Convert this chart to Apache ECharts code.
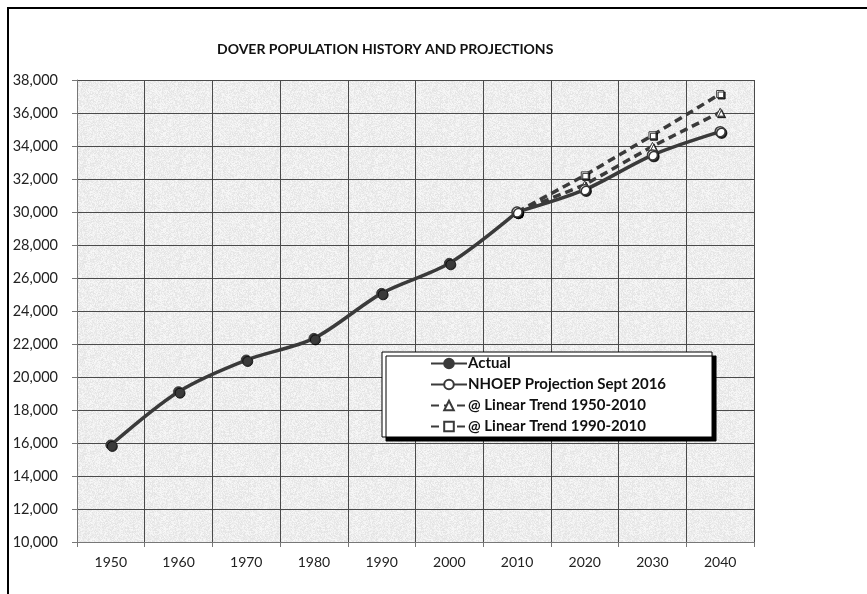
<!DOCTYPE html>
<html>
<head>
<meta charset="utf-8">
<script src="https://cdn.jsdelivr.net/npm/echarts@6/dist/echarts.min.js"></script>
<style>
  html, body { margin: 0; padding: 0; background: #fff; }
  #chart { width: 867px; height: 594px; }
</style>
</head>
<body>
<div id="chart"></div>
<script>
// data
const years = ['1950', '1960', '1970', '1980', '1990', '2000', '2010', '2020', '2030', '2040'];
const actual = [15880, 19110, 21030, 22340, 25070, 26890, 29990, null, null, null];
const nhoep = [null, null, null, null, null, null, 30000, 31350, 33450, 34870];
const trend1950 = [null, null, null, null, null, null, 30000, 31650, 33980, 36050];
const trend1990 = [null, null, null, null, null, null, 30000, 32220, 34650, 37150];
const yTicks = { min: 10000, max: 38000, step: 2000 };

const FONT = 'Lato, "Open Sans", sans-serif';
const INK = '#3a3a3a';

// speckled grey paper texture for the plot area
function paper() {
  const c = document.createElement('canvas');
  c.width = c.height = 96;
  const ctx = c.getContext('2d');
  const img = ctx.createImageData(96, 96);
  let s = 12345;
  for (let i = 0; i < 96 * 96; i++) {
    s = (s * 1103515245 + 12345) & 0x7fffffff;
    const v = 248 - (s >> 8) % 22;
    img.data[i * 4] = v;
    img.data[i * 4 + 1] = v;
    img.data[i * 4 + 2] = v;
    img.data[i * 4 + 3] = 255;
  }
  ctx.putImageData(img, 0, 0);
  return c;
}

const chart = echarts.init(document.getElementById('chart'));

const markerShadow = { shadowColor: 'rgba(0,0,0,0.8)', shadowOffsetX: 1.5, shadowOffsetY: 1.5, shadowBlur: 0 };

chart.setOption({
  animation: false,
  backgroundColor: '#fff',
  textStyle: { fontFamily: FONT },
  title: {
    text: 'DOVER POPULATION HISTORY AND PROJECTIONS',
    left: 212,
    top: 37,
    textStyle: { fontSize: 14, fontWeight: 'bold', color: '#111', fontFamily: FONT }
  },
  graphic: [{
    type: 'polyline',
    shape: { points: [[8, 600], [8, 8], [870, 8]] },
    style: { stroke: '#000', lineWidth: 2, fill: null },
    silent: true
  }],
  grid: {
    left: 77, right: 113, top: 80, bottom: 52,
    show: true,
    borderWidth: 0,
    backgroundColor: { image: paper(), repeat: 'repeat' }
  },
  legend: {
    orient: 'vertical',
    left: 382,
    top: 352,
    data: [
      'Actual',
      'NHOEP Projection Sept 2016',
      '@ Linear Trend 1950-2010',
      '@ Linear Trend 1990-2010'
    ],
    itemWidth: 36,
    itemHeight: 12,
    itemGap: 6,
    padding: [4, 46, 3, 48],
    backgroundColor: '#fff',
    borderColor: '#000',
    borderWidth: 1,
    borderRadius: 0,
    shadowColor: '#000',
    shadowOffsetX: 4,
    shadowOffsetY: 4,
    shadowBlur: 0,
    textStyle: { fontSize: 15, fontWeight: 'bold', color: '#111', fontFamily: FONT, padding: [0, 0, 0, -4] }
  },
  xAxis: {
    type: 'category',
    data: years,
    boundaryGap: true,
    axisLine: { lineStyle: { color: '#777', width: 1 } },
    axisTick: { show: true, length: 5, lineStyle: { color: '#777' } },
    axisLabel: { fontSize: 14, color: '#222', margin: 13, fontFamily: FONT },
    splitLine: { show: true, lineStyle: { color: '#4a4a4a', width: 1 } }
  },
  yAxis: {
    type: 'value',
    min: yTicks.min,
    max: yTicks.max,
    interval: yTicks.step,
    axisLine: { show: true, lineStyle: { color: '#777', width: 1 } },
    axisTick: { show: true, length: 5, lineStyle: { color: '#777' } },
    axisLabel: {
      fontSize: 14.5, color: '#222', margin: 19, fontFamily: FONT,
      formatter: v => v.toLocaleString('en-US')
    },
    splitLine: { show: true, lineStyle: { color: '#4a4a4a', width: 1 } }
  },
  series: [
    {
      name: 'Actual',
      type: 'line',
      data: actual,
      smooth: 0.3,
      symbol: 'circle',
      symbolSize: 10,
      lineStyle: { color: INK, width: 3.5 },
      itemStyle: Object.assign({ color: INK, borderColor: INK, borderWidth: 1 }, markerShadow),
      z: 3
    },
    {
      name: '@ Linear Trend 1990-2010',
      type: 'line',
      data: trend1990,
      symbol: 'rect',
      symbolSize: 7,
      lineStyle: { color: INK, width: 3.5, type: [8, 5] },
      itemStyle: Object.assign({ color: '#fff', borderColor: INK, borderWidth: 1 }, markerShadow),
      z: 4
    },
    {
      name: '@ Linear Trend 1950-2010',
      type: 'line',
      data: trend1950,
      symbol: 'triangle',
      symbolSize: 8,
      lineStyle: { color: INK, width: 3.5, type: [8, 5] },
      itemStyle: Object.assign({ color: '#fff', borderColor: INK, borderWidth: 1 }, markerShadow),
      z: 5
    },
    {
      name: 'NHOEP Projection Sept 2016',
      type: 'line',
      data: nhoep,
      smooth: 0.3,
      symbol: 'circle',
      symbolSize: 10,
      lineStyle: { color: INK, width: 3.5 },
      itemStyle: Object.assign({ color: '#fff', borderColor: INK, borderWidth: 1.5 }, markerShadow),
      z: 6
    }
  ]
});

window.addEventListener('resize', () => chart.resize());
</script>
</body>
</html>
